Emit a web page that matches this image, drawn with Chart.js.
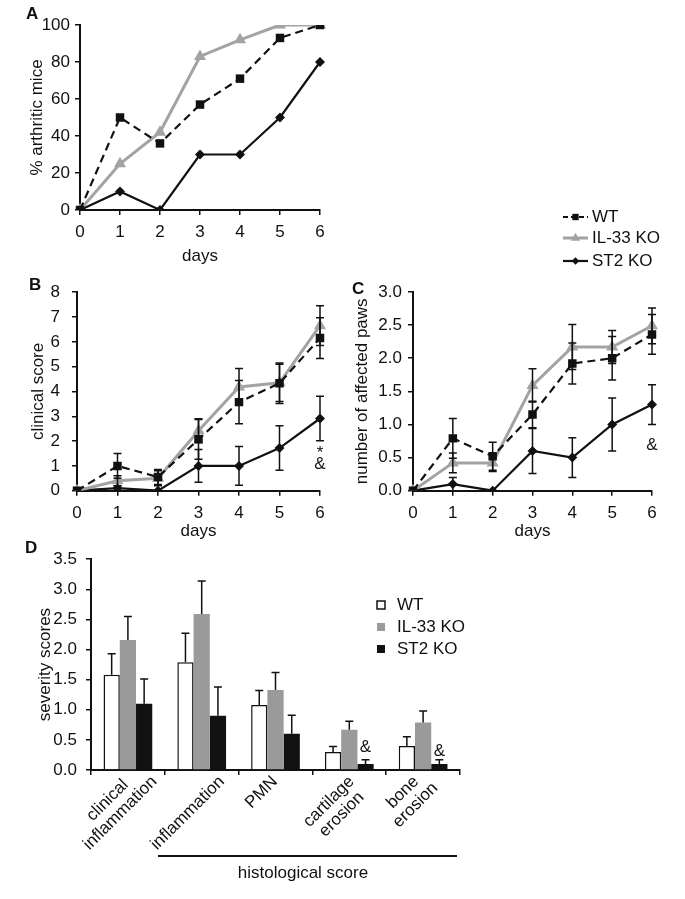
<!DOCTYPE html>
<html>
<head>
<meta charset="utf-8">
<script src="https://cdn.jsdelivr.net/npm/chart.js@4.4.0/dist/chart.umd.min.js"></script>
<style>
  body { margin: 0; background: #fff; width: 685px; height: 899px; position: relative; overflow: hidden;
         font-family: "Liberation Sans", Arial, Helvetica, sans-serif; color: #111; }
  .box { position: absolute; }
  .letter { position: absolute; font-weight: bold; font-size: 17px; line-height: 20px; }
  .histo-line { position: absolute; left: 158px; top: 855px; width: 299px; border-top: 2px solid #111; }
  .histo-text { position: absolute; left: 158px; top: 863px; width: 290px; text-align: center; font-size: 17px; }
</style>
</head>
<body>
<div class="box" style="left:0;top:0;width:685px;height:270px"><canvas id="chartA"></canvas></div>
<div class="box" style="left:0;top:270px;width:340px;height:290px"><canvas id="chartB"></canvas></div>
<div class="box" style="left:340px;top:270px;width:345px;height:290px"><canvas id="chartC"></canvas></div>
<div class="box" style="left:0;top:540px;width:685px;height:359px"><canvas id="chartD"></canvas></div>

<div class="letter" style="left:26px;top:4px">A</div>
<div class="letter" style="left:29px;top:275px">B</div>
<div class="letter" style="left:352px;top:279px">C</div>
<div class="letter" style="left:25px;top:538px">D</div>
<div class="histo-line"></div>
<div class="histo-text">histological score</div>

<script>
// data
const days = ['0', '1', '2', '3', '4', '5', '6'];

// A: % arthritic mice
const pctWT = [0, 50, 36, 57, 71, 93, 100];
const pctIL33 = [0, 25, 42, 83, 92, 100, 100];
const pctST2 = [0, 10, 0, 30, 30, 50, 80];

// B: clinical score (mean, error)
const scoreWT = [0, 1.0, 0.55, 2.07, 3.57, 4.33, 6.15];
const scoreWTErr = [0, 0.5, 0.3, 0.8, 0.87, 0.82, 0.82];
const scoreIL33 = [0, 0.4, 0.5, 2.42, 4.18, 4.35, 6.65];
const scoreIL33Err = [0, 0.2, 0.3, 0.48, 0.74, 0.75, 0.8];
const scoreST2 = [0, 0.1, 0, 1.0, 1.0, 1.72, 2.91];
const scoreST2Err = [0, 0.1, 0, 0.66, 0.78, 0.9, 0.9];

// C: number of affected paws (mean, error)
const pawsWT = [0, 0.79, 0.52, 1.15, 1.92, 2.0, 2.36];
const pawsWTErr = [0, 0.3, 0.21, 0.2, 0.31, 0.33, 0.3];
const pawsIL33 = [0, 0.42, 0.42, 1.59, 2.17, 2.17, 2.49];
const pawsIL33Err = [0, 0.15, 0.13, 0.25, 0.34, 0.25, 0.27];
const pawsST2 = [0, 0.1, 0, 0.6, 0.5, 1.0, 1.3];
const pawsST2Err = [0, 0.1, 0, 0.34, 0.3, 0.4, 0.3];

// D: severity scores
const categories = [['clinical', 'inflammation'], 'inflammation', 'PMN', ['cartilage', 'erosion'], ['bone', 'erosion']];
const sevWT = [1.58, 1.79, 1.08, 0.3, 0.4];
const sevWTErr = [0.35, 0.48, 0.24, 0.09, 0.15];
const sevIL33 = [2.16, 2.59, 1.33, 0.67, 0.79];
const sevIL33Err = [0.39, 0.55, 0.29, 0.14, 0.19];
const sevST2 = [1.1, 0.9, 0.6, 0.1, 0.1];
const sevST2Err = [0.41, 0.48, 0.31, 0.07, 0.07];

// significance marks (dataset, index, value)
const marksB = [{ ds: 2, i: 6, v: 1.5, text: '*' }, { ds: 2, i: 6, v: 1.07, text: '&' }];
const marksC = [{ ds: 2, i: 6, v: 0.69, text: '&' }];
const marksD = [{ ds: 2, i: 3, v: 0.37, text: '&' }, { ds: 2, i: 4, v: 0.31, text: '&' }];

Chart.defaults.font.family = '"Liberation Sans", Arial, Helvetica, sans-serif';
Chart.defaults.font.size = 17;
Chart.defaults.color = '#111';
Chart.defaults.animation = false;

const ink = '#111';
const gray = '#a3a3a3';
const barGray = '#9a9a9a';
const fontStr = '17px "Liberation Sans", Arial, sans-serif';

function lineSets(wt, il, st) {
    return [
        { label: 'WT', data: wt, borderColor: ink, borderWidth: 2.2, borderDash: [8, 5], pointStyle: 'rect',
          pointRadius: 6, pointBackgroundColor: ink, pointBorderColor: ink, pointBorderWidth: 0 },
        { label: 'IL-33 KO', data: il, borderColor: gray, borderWidth: 3, pointStyle: 'triangle',
          pointRadius: 7, pointBackgroundColor: gray, pointBorderColor: gray, pointBorderWidth: 0 },
        { label: 'ST2 KO', data: st, borderColor: ink, borderWidth: 2.2, pointStyle: 'rectRot',
          pointRadius: 5, pointBackgroundColor: ink, pointBorderColor: ink, pointBorderWidth: 0 }
    ];
}

// error bars (lines: both ways, bars: up only)
const errBars = {
    id: 'errBars',
    afterDatasetsDraw(chart, args, opts) {
        if (!opts.errors) return;
        const ctx = chart.ctx, yS = chart.scales.y;
        ctx.save();
        ctx.strokeStyle = ink;
        ctx.lineWidth = 1.5;
        opts.errors.forEach((errs, di) => {
            const vals = chart.data.datasets[di].data;
            chart.getDatasetMeta(di).data.forEach((el, j) => {
                const e = errs[j];
                if (!e) return;
                const top = yS.getPixelForValue(vals[j] + e);
                const bot = opts.upOnly ? el.y : yS.getPixelForValue(vals[j] - e);
                ctx.beginPath();
                ctx.moveTo(el.x, top); ctx.lineTo(el.x, bot);
                ctx.moveTo(el.x - 4, top); ctx.lineTo(el.x + 4, top);
                if (!opts.upOnly) { ctx.moveTo(el.x - 4, bot); ctx.lineTo(el.x + 4, bot); }
                ctx.stroke();
            });
        });
        ctx.restore();
    }
};

// text marks like * and &
const marks = {
    id: 'marks',
    afterDatasetsDraw(chart, args, opts) {
        if (!opts.items) return;
        const ctx = chart.ctx;
        ctx.save();
        ctx.fillStyle = ink;
        ctx.font = fontStr;
        ctx.textAlign = 'center';
        ctx.textBaseline = 'middle';
        opts.items.forEach(m => {
            const el = chart.getDatasetMeta(m.ds).data[m.i];
            ctx.fillText(m.text, el.x, chart.scales.y.getPixelForValue(m.v));
        });
        ctx.restore();
    }
};

// rotated, centred category labels for the bar chart
const slantLabels = {
    id: 'slantLabels',
    afterDraw(chart, args, opts) {
        if (opts.top === undefined) return;
        const ctx = chart.ctx, xS = chart.scales.x, k45 = Math.SQRT1_2;
        ctx.save();
        ctx.fillStyle = ink;
        ctx.font = fontStr;
        ctx.textAlign = 'center';
        ctx.textBaseline = 'middle';
        chart.data.labels.forEach((lab, i) => {
            const lines = Array.isArray(lab) ? lab : [lab];
            const offs = lines.map((t, k) => (k - (lines.length - 1) / 2) * opts.lh);
            // keep the highest line end just under the axis
            const reach = Math.max(...lines.map((t, k) => (ctx.measureText(t).width / 2 - offs[k]) * k45));
            const cx = xS.getPixelForValue(i) + opts.dx;
            const cy = xS.top + opts.top + reach;
            lines.forEach((t, k) => {
                ctx.save();
                ctx.translate(cx + offs[k] * k45, cy + offs[k] * k45);
                ctx.rotate(-Math.PI / 4);
                ctx.fillText(t, 0, 0);
                ctx.restore();
            });
        });
        ctx.restore();
    }
};

// legend with line + marker
const lineLegend = {
    id: 'lineLegend',
    afterDraw(chart, args, opts) {
        if (!opts.y) return;
        const ctx = chart.ctx;
        chart.data.datasets.forEach((ds, i) => {
            const y = opts.y[i];
            ctx.save();
            ctx.strokeStyle = ds.borderColor;
            ctx.lineWidth = ds.borderWidth;
            ctx.setLineDash(ds.borderDash ? [5, 3] : []);
            ctx.beginPath();
            ctx.moveTo(opts.x, y); ctx.lineTo(opts.x + opts.len, y);
            ctx.stroke();
            ctx.setLineDash([]);
            ctx.fillStyle = ds.pointBackgroundColor;
            ctx.strokeStyle = ds.pointBorderColor;
            Chart.helpers.drawPoint(ctx, { pointStyle: ds.pointStyle, radius: ds.pointRadius * 0.75, borderWidth: 0 },
                opts.x + opts.len / 2, y);
            ctx.fillStyle = ink;
            ctx.font = fontStr;
            ctx.textBaseline = 'middle';
            ctx.fillText(ds.label, opts.x + opts.len + 4, y);
            ctx.restore();
        });
    }
};

// legend with boxes
const boxLegend = {
    id: 'boxLegend',
    afterDraw(chart, args, opts) {
        if (!opts.y) return;
        const ctx = chart.ctx;
        chart.data.datasets.forEach((ds, i) => {
            const y = opts.y[i];
            ctx.save();
            ctx.fillStyle = ds.backgroundColor;
            ctx.fillRect(opts.x - 4, y - 4, 8, 8);
            if (ds.borderWidth) {
                ctx.strokeStyle = ink;
                ctx.lineWidth = 1.5;
                ctx.strokeRect(opts.x - 4, y - 4, 8, 8);
            }
            ctx.fillStyle = ink;
            ctx.font = fontStr;
            ctx.textBaseline = 'middle';
            ctx.fillText(ds.label, opts.x + 16, y);
            ctx.restore();
        });
    }
};

const fixW = w => s => { s.width = w; };
const fixH = h => s => { s.height = h; };
const axisLine = { display: true, color: ink, width: 2 };
const tickGrid = { drawOnChartArea: false, drawTicks: true, tickLength: 5, color: ink, lineWidth: 1.5 };
const oneDec = v => v.toFixed(1);

function lineChart(id, sets, opt) {
    return new Chart(document.getElementById(id), {
        type: 'line',
        data: { labels: days, datasets: sets },
        options: {
            responsive: true,
            maintainAspectRatio: false,
            layout: { padding: opt.padding },
            plugins: {
                legend: { display: false },
                tooltip: { enabled: false },
                errBars: { errors: opt.errors },
                marks: { items: opt.marks },
                lineLegend: opt.legend || {}
            },
            scales: {
                x: {
                    grid: tickGrid, border: axisLine,
                    ticks: { padding: 7 },
                    title: { display: true, text: 'days', padding: { top: 0, bottom: opt.daysPad } },
                    afterFit: fixH(opt.xh)
                },
                y: {
                    min: 0, max: opt.max,
                    grid: tickGrid, border: axisLine,
                    ticks: { stepSize: opt.step, padding: opt.tickPad, callback: opt.fmt },
                    title: { display: true, text: opt.title, padding: { top: opt.titlePad, bottom: 0 } },
                    afterFit: fixW(opt.yw)
                }
            }
        },
        plugins: [errBars, marks, lineLegend]
    });
}

// A
lineChart('chartA', lineSets(pctWT, pctIL33, pctST2), {
    padding: { top: 25, right: 365, left: 0, bottom: 0 },
    xh: 60, yw: 80, max: 100, step: 20, tickPad: 5, daysPad: 3,
    title: '% arthritic mice', titlePad: 27, fmt: v => v,
    legend: { x: 563, len: 25, y: [217, 238, 261] }
});

// B
lineChart('chartB', lineSets(scoreWT, scoreIL33, scoreST2), {
    padding: { top: 14, right: 20, left: 0, bottom: 0 },
    xh: 69.3, yw: 77, max: 8, step: 1, tickPad: 12, daysPad: 18,
    title: 'clinical score', titlePad: 28, fmt: v => v,
    errors: [scoreWTErr, scoreIL33Err, scoreST2Err], marks: marksB
});

// C
lineChart('chartC', lineSets(pawsWT, pawsIL33, pawsST2), {
    padding: { top: 22, right: 33, left: 0, bottom: 0 },
    xh: 69.3, yw: 73, max: 3, step: 0.5, tickPad: 6, daysPad: 18,
    title: 'number of affected paws', titlePad: 12, fmt: oneDec,
    errors: [pawsWTErr, pawsIL33Err, pawsST2Err], marks: marksC
});

// D
new Chart(document.getElementById('chartD'), {
    type: 'bar',
    data: {
        labels: categories,
        datasets: [
            { label: 'WT', data: sevWT, backgroundColor: '#fff', borderColor: ink, borderWidth: 1.5 },
            { label: 'IL-33 KO', data: sevIL33, backgroundColor: barGray, borderWidth: 0 },
            { label: 'ST2 KO', data: sevST2, backgroundColor: ink, borderWidth: 0 }
        ]
    },
    options: {
        responsive: true,
        maintainAspectRatio: false,
        datasets: { bar: { categoryPercentage: 0.66, barPercentage: 1 } },
        layout: { padding: { top: 13, right: 225, left: 0, bottom: 0 } },
        plugins: {
            legend: { display: false },
            tooltip: { enabled: false },
            errBars: { errors: [sevWTErr, sevIL33Err, sevST2Err], upOnly: true },
            marks: { items: marksD },
            boxLegend: { x: 381, y: [65, 87, 109] },
            slantLabels: { dx: -14, top: 9, lh: 18 }
        },
        scales: {
            x: {
                grid: Object.assign({}, tickGrid, { offset: true }),
                border: axisLine,
                ticks: { display: false },
                afterFit: fixH(129)
            },
            y: {
                min: 0, max: 3.5,
                grid: tickGrid, border: axisLine,
                ticks: { stepSize: 0.5, padding: 9, callback: oneDec },
                title: { display: true, text: 'severity scores', padding: { top: 35, bottom: 0 } },
                afterFit: fixW(91)
            }
        }
    },
    plugins: [errBars, marks, boxLegend, slantLabels]
});
</script>
</body>
</html>
